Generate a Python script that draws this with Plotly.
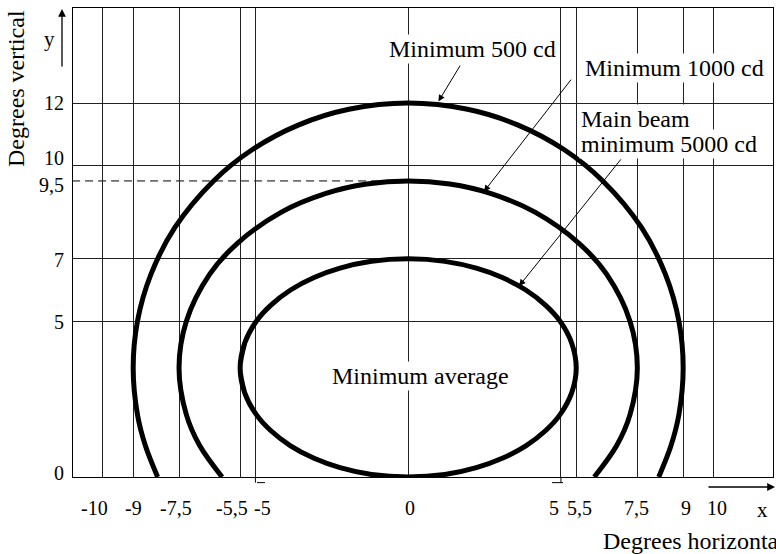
import plotly.graph_objects as go

# ---- data ----
# outer curve: Minimum 500 cd
outer_x = [-8.2, -8.6, -8.86, -9.0, -8.86, -8.42, -7.64, -6.37, -5.11, -3.58, -1.94, 0,
           1.94, 3.58, 5.11, 6.37, 7.64, 8.42, 8.86, 9.0, 8.86, 8.6, 8.2]
outer_y = [0, 1, 2, 3.5, 5, 6.5, 8, 9.5, 10.5, 11.3, 11.8, 12,
           11.8, 11.3, 10.5, 9.5, 8, 6.5, 5, 3.5, 2, 1, 0]
# middle curve: Minimum 1000 cd
middle_x = [-6.09, -6.82, -7.26, -7.5, -7.26, -6.5, -5.59, -4.15, -2.69, -1.36, 0,
            1.36, 2.69, 4.15, 5.59, 6.5, 7.26, 7.5, 7.26, 6.82, 6.09]
middle_y = [0, 1, 2, 3.5, 5, 6.5, 7.5, 8.5, 9.1, 9.4, 9.5,
            9.4, 9.1, 8.5, 7.5, 6.5, 5, 3.5, 2, 1, 0]
# inner closed curve: Main beam minimum 5000 cd
inner_x = [-5.35, -5.5, -5.35, -4.97, -4.51, -3.85, -3.08, -2.23, -1.2, 0,
           1.2, 2.23, 3.08, 3.85, 4.51, 4.97, 5.35, 5.5, 5.35, 4.97, 4.51, 3.85, 3.08, 2.23, 1.2, 0,
           -1.2, -2.23, -3.08, -3.85, -4.51, -4.97, -5.35, -5.5, -5.35]
inner_y = [4.3, 3.5, 2.7, 2.0, 1.5, 1.0, 0.6, 0.3, 0.08, 0,
           0.08, 0.3, 0.6, 1.0, 1.5, 2.0, 2.7, 3.5, 4.3, 5.0, 5.5, 6.0, 6.4, 6.7, 6.92, 7,
           6.92, 6.7, 6.4, 6.0, 5.5, 5.0, 4.3, 3.5, 2.7]

x_grid = [-10, -9, -7.5, -5.5, -5, 0, 5, 5.5, 7.5, 9, 10]
y_grid = [5, 7, 10, 12]
y_dashed = 9.5

xtick_vals = [-10, -9, -7.5, -5.5, -5, 0, 5, 5.5, 7.5, 9, 10]
xtick_text = ["-10", "-9", "-7,5", "-5,5", "-5", "0", "5", "5,5", "7,5", "9", "10"]
ytick_vals = [0, 5, 7, 9.5, 10, 12]
ytick_text = ["0", "5", "7", "9,5", "10", "12"]

# ---- styles ----
xtick_shift = [-8, 0, -3, -8, 7, 2, -7, 3, -1, 3, 3]
ytick_shift = [4.5, -1, -1, -4, 7, 0]
FONT = "Liberation Serif, Times New Roman, serif"
CURVE_W = 5


def px_to_paper(px, py):
    return (px - 73) / 700.0, (477 - py) / 469.0


fig = go.Figure()
for xs, ys in [(outer_x, outer_y), (middle_x, middle_y), (inner_x, inner_y)]:
    fig.add_trace(go.Scatter(x=xs, y=ys, mode="lines",
                             line=dict(color="black", width=CURVE_W, shape="spline", smoothing=1),
                             hoverinfo="skip", showlegend=False, cliponaxis=False))

annotations = []
for v, t, s in zip(xtick_vals, xtick_text, xtick_shift):
    annotations.append(dict(x=v, y=0, xref="x", yref="paper", text=t, showarrow=False,
                            xanchor="center", yanchor="middle", xshift=s, yshift=-31,
                            font=dict(size=20, color="black", family=FONT)))
for v, t, s in zip(ytick_vals, ytick_text, ytick_shift):
    annotations.append(dict(x=0, y=v, xref="paper", yref="y", text=t, showarrow=False,
                            xanchor="right", yanchor="middle", xshift=-7, yshift=s,
                            font=dict(size=20, color="black", family=FONT)))

xx, yy = px_to_paper(762, 510)
annotations.append(dict(x=xx, y=yy, xref="paper", yref="paper", text="x", showarrow=False,
                        xanchor="center", yanchor="middle", font=dict(size=21, color="black", family=FONT)))
xx, yy = px_to_paper(49, 39)
annotations.append(dict(x=xx, y=yy, xref="paper", yref="paper", text="y", showarrow=False,
                        xanchor="center", yanchor="middle", font=dict(size=21, color="black", family=FONT)))
xx, yy = px_to_paper(601, 541)
annotations.append(dict(x=xx, y=yy, xref="paper", yref="paper", text="Degrees horizontal", showarrow=False,
                        xanchor="left", yanchor="middle", font=dict(size=24, color="black", family=FONT)))
xx, yy = px_to_paper(16, 89)
annotations.append(dict(x=xx, y=yy, xref="paper", yref="paper", text="Degrees vertical", showarrow=False,
                        textangle=-90, xanchor="center", yanchor="middle",
                        font=dict(size=24, color="black", family=FONT)))
# axis arrows
xx, yy = px_to_paper(62, 9)
annotations.append(dict(x=xx, y=yy, xref="paper", yref="paper", text="", showarrow=True,
                        ax=0, ay=59, arrowhead=2, arrowsize=1.2, arrowwidth=1.3, arrowcolor="black"))
xx, yy = px_to_paper(775, 487)
annotations.append(dict(x=xx, y=yy, xref="paper", yref="paper", text="", showarrow=True,
                        ax=-68, ay=0, arrowhead=2, arrowsize=1.2, arrowwidth=1.3, arrowcolor="black"))

# curve labels
lab_font = dict(size=24, color="black", family=FONT)
annotations += [
    dict(x=2.09, y=13.72, xref="x", yref="y", text="Minimum 500 cd", showarrow=False,
         bgcolor="white", font=lab_font, xanchor="center", yanchor="middle"),
    dict(x=8.72, y=13.12, xref="x", yref="y", text="Minimum 1000 cd", showarrow=False,
         bgcolor="white", font=lab_font, xanchor="center", yanchor="middle"),
    dict(x=5.67, y=11.48, xref="x", yref="y", text="Main beam", showarrow=False,
         bgcolor="white", font=lab_font, xanchor="left", yanchor="middle", xshift=-2),
    dict(x=5.67, y=10.68, xref="x", yref="y", text="minimum 5000 cd", showarrow=False,
         bgcolor="white", font=lab_font, xanchor="left", yanchor="middle", xshift=-2),
    dict(x=0.41, y=3.24, xref="x", yref="y", text="Minimum average", showarrow=False,
         bgcolor="white", font=lab_font, xanchor="center", yanchor="middle"),
]
# label pointer arrows (head on curve, tail near label)
for hx, hy, tx, ty in [(0.99, 12.05, 1.73, 13.25), (2.48, 9.16, 5.37, 12.8), (3.63, 6.13, 7.0, 10.24)]:
    annotations.append(dict(x=hx, y=hy, xref="x", yref="y", ax=tx, ay=ty, axref="x", ayref="y",
                            text="", showarrow=True, arrowhead=2, arrowsize=1.3, arrowwidth=1,
                            arrowcolor="black"))

shapes = [
    dict(type="line", xref="x", yref="y", x0=-11.0, x1=0, y0=y_dashed, y1=y_dashed,
         line=dict(color="black", width=1, dash="8px,5px"), layer="below"),
    dict(type="line", xref="x", yref="paper", x0=-5, x1=-5, y0=0, y1=-0.012,
         line=dict(color="black", width=1)),
    dict(type="line", xref="paper", yref="paper", x0=(257 - 73) / 700, x1=(265 - 73) / 700,
         y0=-0.012, y1=-0.012, line=dict(color="black", width=1)),
    dict(type="line", xref="x", yref="paper", x0=5, x1=5, y0=0, y1=-0.012,
         line=dict(color="black", width=1)),
    dict(type="line", xref="paper", yref="paper", x0=(552 - 73) / 700, x1=(563 - 73) / 700,
         y0=-0.012, y1=-0.012, line=dict(color="black", width=1)),
]

fig.update_layout(
    width=776, height=554,
    margin=dict(l=73, r=3, t=8, b=77),
    paper_bgcolor="white", plot_bgcolor="white",
    font=dict(family=FONT, color="black"),
    showlegend=False,
    annotations=annotations,
    shapes=shapes,
    xaxis=dict(range=[-10.97, 11.94], tickvals=x_grid, showticklabels=False, ticks="",
               showgrid=True, gridcolor="#222", gridwidth=1, zeroline=False,
               showline=True, linecolor="black", linewidth=1, mirror=True, fixedrange=True),
    yaxis=dict(range=[0, 15.05], tickvals=y_grid, showticklabels=False, ticks="",
               showgrid=True, gridcolor="#222", gridwidth=1, zeroline=False,
               showline=True, linecolor="black", linewidth=1, mirror=True, fixedrange=True),
)

fig.write_html("out.html", config={"displayModeBar": False},
               post_script="document.body.style.margin='0px';document.body.style.overflow='hidden';")
